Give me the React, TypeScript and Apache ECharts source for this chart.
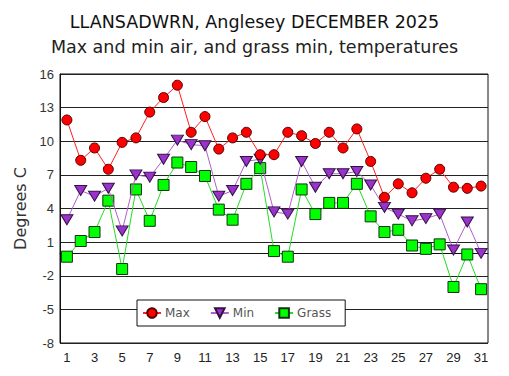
import React, { useEffect, useRef } from "react";
import * as echarts from "echarts";

const days = Array.from({ length: 31 }, (_, i) => String(i + 1));
const maxTemps = [11.9, 8.3, 9.4, 7.5, 9.9, 10.3, 12.6, 13.9, 15.0, 10.8, 12.2, 9.3, 10.3, 10.8, 8.8, 8.8, 10.8, 10.5, 9.8, 10.8, 9.4, 11.1, 8.2, 5.0, 6.2, 5.4, 6.7, 7.5, 5.9, 5.8, 6.0];
const minTemps = [3.0, 5.6, 5.1, 5.8, 2.0, 7.0, 6.8, 8.4, 10.1, 9.7, 9.6, 5.1, 5.6, 8.2, 8.4, 3.7, 3.5, 8.2, 5.9, 7.1, 7.1, 7.3, 6.1, 4.1, 3.5, 2.9, 3.1, 3.5, 0.3, 2.8, 0.0];
const grassTemps = [-0.3, 1.1, 1.9, 4.7, -1.4, 5.7, 2.9, 6.1, 8.1, 7.7, 6.9, 3.9, 3.0, 6.2, 7.6, 0.2, -0.3, 5.7, 3.5, 4.5, 4.5, 6.2, 3.3, 1.9, 2.1, 0.7, 0.4, 0.8, -3.0, -0.1, -3.2];

const titleLine1 = "LLANSADWRN, Anglesey DECEMBER 2025";
const titleLine2 = "Max and min air, and grass min, temperatures";

export default function App() {
  const ref = useRef<HTMLDivElement>(null);
  useEffect(() => {
    if (!ref.current) return;
    const chart = echarts.init(ref.current, null, { renderer: "svg" });
    chart.setOption({
      animation: false,
      backgroundColor: "#ffffff",
      title: [
        {
          text: titleLine1,
          left: "center",
          top: 8,
          textStyle: { fontFamily: "DejaVu Sans", fontSize: 17.5, fontWeight: "normal", color: "#111" },
        },
        {
          text: titleLine2,
          left: "center",
          top: 33,
          textStyle: { fontFamily: "DejaVu Sans", fontSize: 17.5, fontWeight: "normal", color: "#222" },
        },
      ],
      grid: { left: 60, top: 74, right: 21, bottom: 33, show: true, borderColor: "#111", borderWidth: 1 },
      legend: {
        left: 137,
        top: 300,
        orient: "horizontal",
        padding: [7, 14, 7, 5],
        itemGap: 20,
        itemWidth: 18,
        itemHeight: 12,
        borderColor: "#111",
        borderWidth: 1,
        backgroundColor: "#fff",
        textStyle: { fontFamily: "DejaVu Sans", fontSize: 12, color: "#555", padding: [0, 0, 0, -1] },
        data: ["Max", "Min", "Grass"],
      },
      xAxis: {
        type: "category",
        data: days,
        boundaryGap: true,
        axisTick: { show: false },
        axisLine: { lineStyle: { color: "#111" } },
        axisLabel: { interval: 1, fontFamily: "Liberation Sans", fontSize: 13, color: "#222", margin: 8 },
      },
      yAxis: {
        type: "value",
        min: -8,
        max: 16,
        interval: 3,
        name: "Degrees C",
        nameLocation: "middle",
        nameGap: 25,
        nameTextStyle: { fontFamily: "DejaVu Sans", fontSize: 16, color: "#333" },
        axisLine: { show: true, lineStyle: { color: "#111" } },
        axisTick: { show: false },
        axisLabel: { fontFamily: "Liberation Sans", fontSize: 13, color: "#333", margin: 6 },
        splitLine: { lineStyle: { color: "#222", width: 1 } },
      },
      series: [
        {
          name: "Max",
          type: "line",
          data: maxTemps,
          symbol: "circle",
          symbolSize: 10,
          showAllSymbol: true,
          lineStyle: { color: "#ff2020", width: 1 },
          itemStyle: { color: "#ff0000", borderColor: "#550000", borderWidth: 1 },
          z: 4,
        },
        {
          name: "Min",
          type: "line",
          data: minTemps,
          symbol: "triangle",
          symbolRotate: 180,
          symbolSize: [12, 10],
          showAllSymbol: true,
          lineStyle: { color: "#b060c8", width: 1 },
          itemStyle: { color: "#9933cc", borderColor: "#331144", borderWidth: 1 },
          z: 3,
        },
        {
          name: "Grass",
          type: "line",
          data: grassTemps,
          symbol: "rect",
          symbolSize: 11,
          showAllSymbol: true,
          lineStyle: { color: "#22dd22", width: 1 },
          itemStyle: { color: "#00ff00", borderColor: "#113311", borderWidth: 1 },
          z: 2,
        },
      ],
    });
    return () => chart.dispose();
  }, []);
  return <div ref={ref} style={{ position: "fixed", left: 0, top: 0, width: 509, height: 376 }} />;
}
